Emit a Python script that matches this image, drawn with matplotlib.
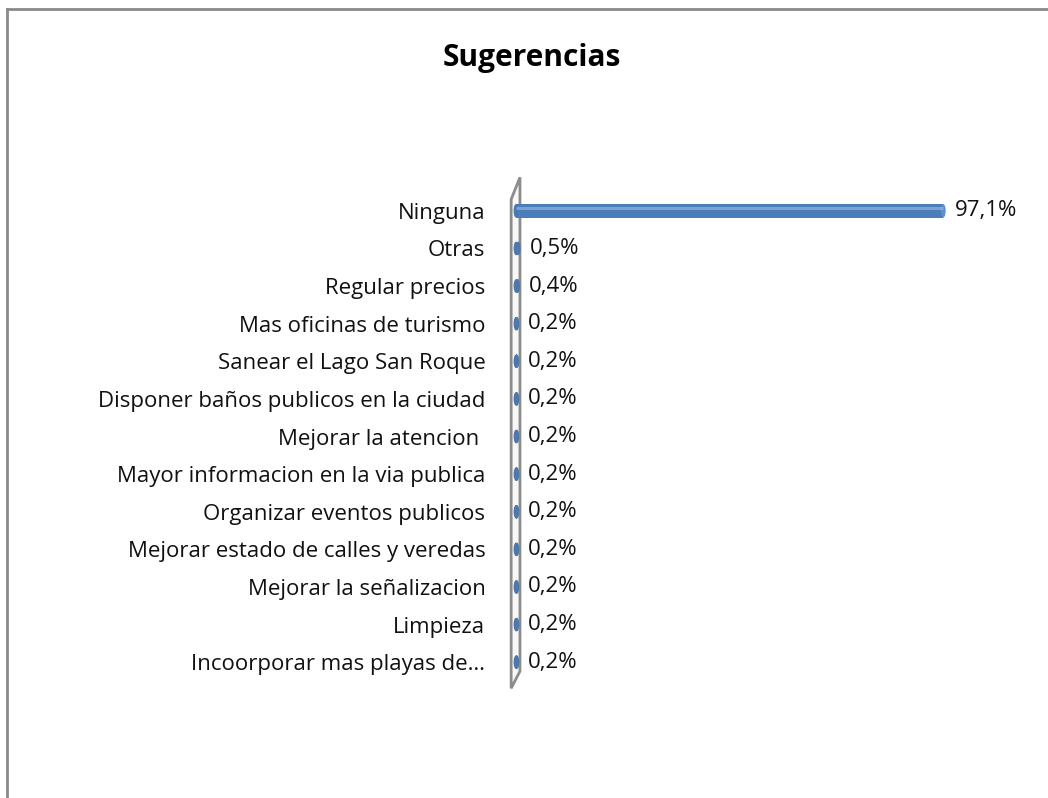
import matplotlib
matplotlib.use("Agg")
import matplotlib.pyplot as plt
from matplotlib.patches import Ellipse, Polygon
from matplotlib.lines import Line2D

categories = ["Ninguna", "Otras", "Regular precios", "Mas oficinas de turismo",
              "Sanear el Lago San Roque", "Disponer baños publicos en la ciudad",
              "Mejorar la atencion ", "Mayor informacion en la via publica",
              "Organizar eventos publicos", "Mejorar estado de calles y veredas",
              "Mejorar la señalizacion", "Limpieza", "Incoorporar mas playas de…"]
values = [97.1, 0.5, 0.4, 0.2, 0.2, 0.2, 0.2, 0.2, 0.2, 0.2, 0.2, 0.2, 0.2]
labels = ["97,1%", "0,5%", "0,4%", "0,2%", "0,2%", "0,2%", "0,2%", "0,2%",
          "0,2%", "0,2%", "0,2%", "0,2%", "0,2%"]
title = "Sugerencias"

plt.rcParams['font.family'] = ['Open Sans', 'DejaVu Sans']

W, H = 1048, 798
fig = plt.figure(figsize=(W / 100, H / 100), dpi=100)
fig.patch.set_facecolor('white')

# outer frame (top and left edges visible)
fig.add_artist(Line2D([7 / W, 7 / W], [0, 1 - 9 / H], transform=fig.transFigure,
                      color='#8a8a8a', lw=2))
fig.add_artist(Line2D([7 / W, 1], [1 - 9 / H, 1 - 9 / H], transform=fig.transFigure,
                      color='#8a8a8a', lw=2))

ax_left = 516 / W
ax_right = 956 / W
ax_top = 1 - 192 / H
ax_bot = 1 - 681 / H
ax = fig.add_axes([ax_left, ax_bot, ax_right - ax_left, ax_top - ax_bot])
ax.set_xlim(0, 100)
n = len(categories)
ax.set_ylim(n - 0.5, -0.5)
for s in ax.spines.values():
    s.set_visible(False)
ax.set_xticks([])
ax.set_yticks(range(n))
ax.set_yticklabels(categories, fontsize=16, color='#111111')
ax.tick_params(axis='y', length=0, pad=22)

# 3D-ish wall
wall = Polygon([(-0.011, -0.015), (-0.011, 0.985), (0.009, 1.03), (0.009, 0.02)],
               closed=True, transform=ax.transAxes, facecolor='#f8f8f8',
               edgecolor='#8c8c8c', lw=2, clip_on=False, zorder=1)
ax.add_patch(wall)

bh = 0.36
capw = 1.1
for i, v in enumerate(values):
    ax.barh(i, v, height=bh, left=0, color='#4a7dbb', zorder=3, clip_on=False)
    ax.add_patch(Ellipse((0, i), capw, bh, facecolor='#4a78b0', edgecolor='none',
                         zorder=3, clip_on=False))
    ax.add_patch(Ellipse((v, i), capw, bh, facecolor='#5b8fcf' if v > 5 else '#4f77aa',
                         edgecolor='none', zorder=4, clip_on=False))
    if v > 5:
        ax.plot([0, v], [i - bh * 0.2, i - bh * 0.2], color='#a3c2e8', lw=2.2,
                alpha=0.55, zorder=4, solid_capstyle='butt')
    ax.text(v + 2.6, i, labels[i], va='center', ha='left', fontsize=16, color='#111111')

fig.text(532 / W, 1 - 58 / H, title, ha='center', va='center',
         fontsize=21.5, fontweight='bold', color='black')

fig.savefig('out.png', dpi=100)
